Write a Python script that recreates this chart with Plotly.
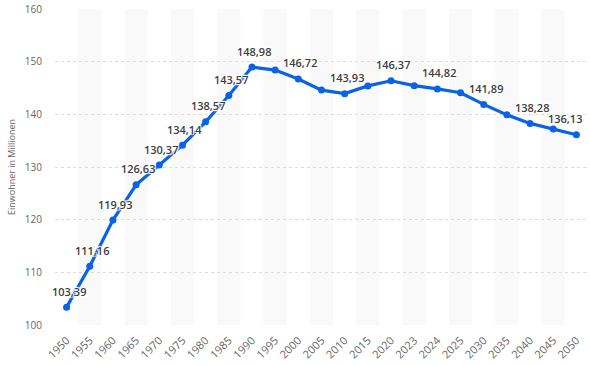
import plotly.graph_objects as go

years = ["1950", "1955", "1960", "1965", "1970", "1975", "1980", "1985", "1990", "1995",
         "2000", "2005", "2010", "2015", "2020", "2023", "2024", "2025", "2030", "2035",
         "2040", "2045", "2050"]
values = [103.39, 111.16, 119.93, 126.63, 130.37, 134.14, 138.57, 143.57, 148.98, 148.4,
          146.72, 144.6, 143.93, 145.4, 146.37, 145.45, 144.82, 144.1, 141.89, 139.9,
          138.28, 137.2, 136.13]
labeled = ["1950", "1955", "1960", "1965", "1970", "1975", "1980", "1985", "1990",
           "2000", "2010", "2020", "2024", "2030", "2040", "2050"]
y_ticks = [100, 110, 120, 130, 140, 150, 160]

halo = ("-1px -1px 1px white, 1px -1px 1px white, -1px 1px 1px white, 1px 1px 1px white, "
        "0 0 2px white")

fig = go.Figure()
fig.add_trace(go.Scatter(
    x=years, y=values, mode="lines+markers",
    line=dict(color="#0a62e6", width=3.2),
    marker=dict(color="#0a62e6", size=7),
    cliponaxis=False, hoverinfo="skip"))

annotations = []
last = len(years) - 1
for i, (y, v) in enumerate(zip(years, values)):
    if y in labeled:
        annotations.append(dict(
            x=i, y=v, xref="x", yref="y", text=f"{v:.2f}".replace(".", ","),
            showarrow=False, yshift=16,
            xanchor="right" if i == last else "center",
            xshift=8 if i == last else 2,
            font=dict(family="Open Sans", size=11, color="#3d3d3d", weight=600, shadow=halo)))

shapes = []
for i in range(len(years)):
    if i % 2 == 1:
        shapes.append(dict(type="rect", xref="x", yref="paper", x0=i - 0.5, x1=i + 0.5,
                           y0=0, y1=1, fillcolor="#f9f9f9", line_width=0, layer="below"))

fig.update_layout(
    width=590, height=365,
    margin=dict(l=55, r=2, t=9, b=40, autoexpand=False),
    paper_bgcolor="white", plot_bgcolor="white",
    showlegend=False, shapes=shapes, annotations=annotations,
    font=dict(family="Open Sans", color="#666666"),
)
fig.update_xaxes(type="category", tickangle=-45, tickfont=dict(size=11, color="#666666"),
                 showgrid=False, showline=False, ticks="", automargin=False,
                 ticklabelstandoff=6, range=[-0.5, len(years) - 0.5])
fig.update_yaxes(range=[100, 160], tickvals=y_ticks, tickfont=dict(size=10, color="#666666"),
                 showgrid=True, gridcolor="#dcdcdc", griddash="dot", gridwidth=1,
                 zeroline=False, showline=False, ticklabelstandoff=12, automargin=False,
                 title=dict(text="Einwohner in Millionen", font=dict(size=9, color="#666666"),
                            standoff=7))

fig.write_html("out.html", config={"displayModeBar": False},
               post_script="document.body.style.margin='0';")
